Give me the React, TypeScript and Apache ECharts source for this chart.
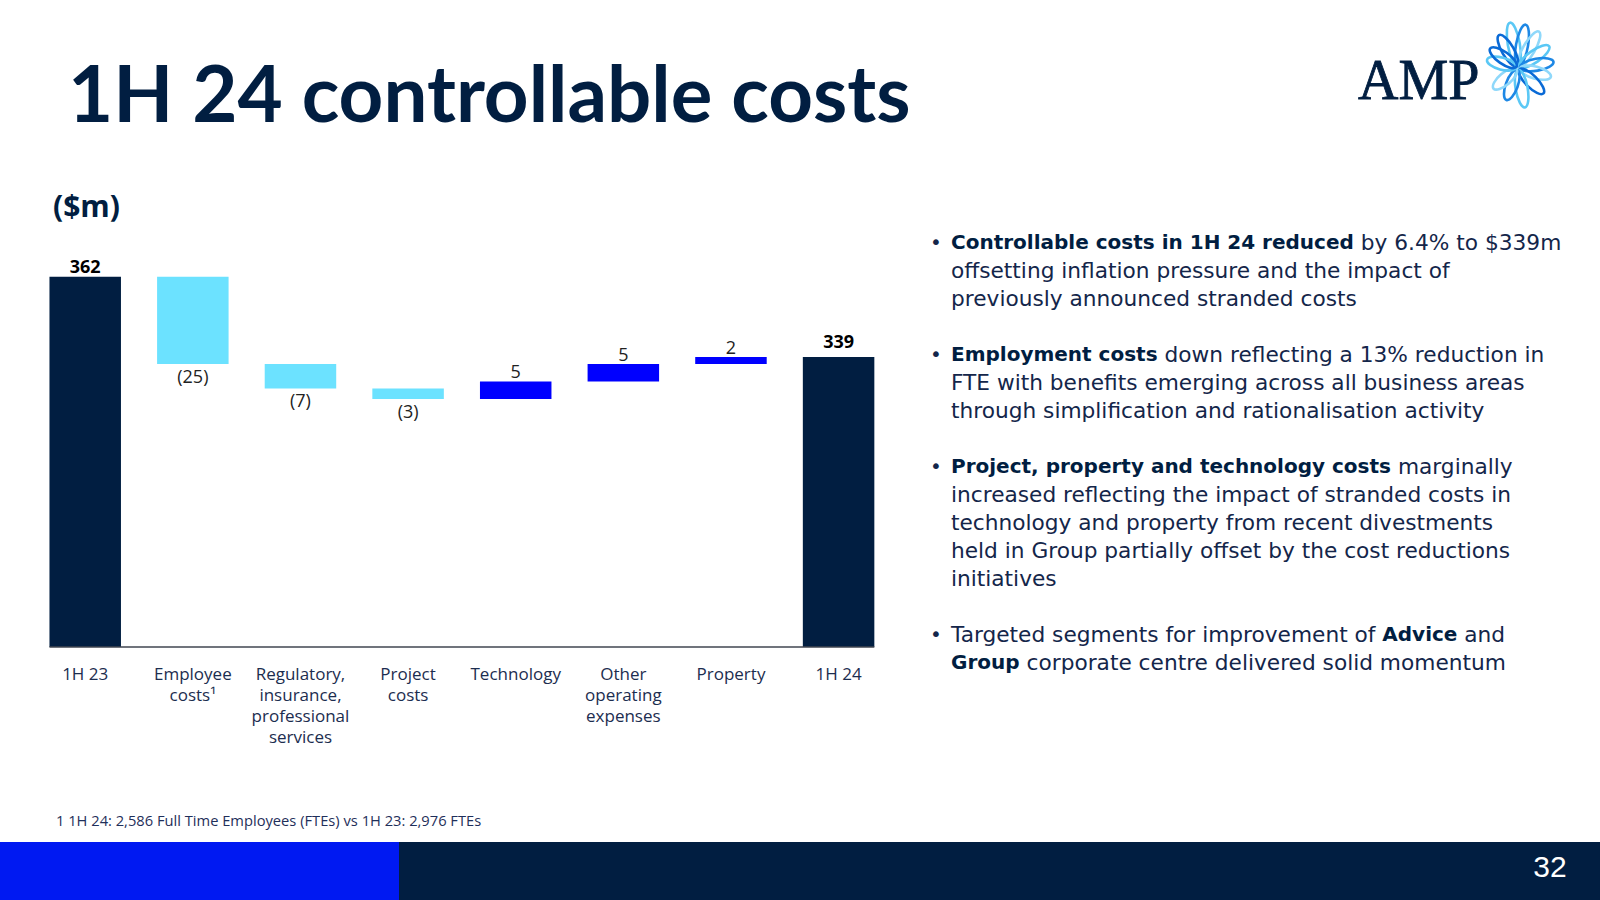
import React, { useEffect, useRef } from "react";
import * as echarts from "echarts";

// ---------- data ----------
const categories = [
  "1H 23",
  "Employee\ncosts¹",
  "Regulatory,\ninsurance,\nprofessional\nservices",
  "Project\ncosts",
  "Technology",
  "Other\noperating\nexpenses",
  "Property",
  "1H 24",
];
const changes = [362, -25, -7, -3, 5, 5, 2, 339];
const isTotal = [true, false, false, false, false, false, false, true];

const bulletLines: string[][] = [
  [
    "{b|Controllable costs in 1H 24 reduced }{r|by 6.4% to $339m}",
    "{r|offsetting inflation pressure and the impact of}",
    "{r|previously announced stranded costs}",
  ],
  [
    "{b|Employment costs }{r|down reflecting a 13% reduction in}",
    "{r|FTE with benefits emerging across all business areas}",
    "{r|through simplification and rationalisation activity}",
  ],
  [
    "{b|Project, property and technology costs }{r|marginally}",
    "{r|increased reflecting the impact of stranded costs in}",
    "{r|technology and property from recent divestments}",
    "{r|held in Group partially offset by the cost reductions}",
    "{r|initiatives}",
  ],
  [
    "{r|Targeted segments for improvement of }{b|Advice}{r| and}",
    "{b|Group }{r|corporate centre delivered solid momentum}",
  ],
];

const titleText = "1H 24 controllable costs";
const unitText = "($m)";
const footnoteText = "1 1H 24: 2,586 Full Time Employees (FTEs) vs 1H 23: 2,976 FTEs";
const pageNumber = "32";

// ---------- styles ----------
const NAVY = "#011E41";
const CYAN = "#6CE2FF";
const BLUE = "#0000FF";
const FOOT_BLUE = "#0019F2";
const TEXT = "#14264A";
const FONT = "'Open Sans', 'DejaVu Sans', sans-serif";
const BODY_FONT = "'DejaVu Sans', 'Open Sans', sans-serif";
const TITLE_FONT = "Lato, 'Open Sans', sans-serif";

// petals for the logo starburst: [angleDeg, length, color]
const petals: [number, number, string][] = [
  [100, 44, "#5BC8F5"],
  [80, 42, "#1E88E5"],
  [60, 40, "#8FD8FA"],
  [120, 36, "#0A6AD6"],
  [35, 36, "#5BC8F5"],
  [10, 34, "#1E88E5"],
  [-15, 32, "#8FD8FA"],
  [-45, 34, "#0A6AD6"],
  [-80, 38, "#5BC8F5"],
  [-110, 32, "#1E88E5"],
  [-140, 30, "#8FD8FA"],
  [165, 30, "#5BC8F5"],
  [145, 32, "#0A6AD6"],
];

export default function App() {
  const ref = useRef<HTMLDivElement>(null);

  useEffect(() => {
    if (!ref.current) return;
    const chart = echarts.init(ref.current, null, { renderer: "svg" });

    // waterfall decomposition
    const base: number[] = [];
    const bar: any[] = [];
    let running = 0;
    changes.forEach((v, i) => {
      if (isTotal[i]) {
        base.push(0);
        running = v;
        bar.push({
          value: v,
          itemStyle: { color: NAVY },
          label: {
            show: true,
            position: "top",
            distance: i === 0 ? 2 : 7,
            formatter: String(v),
            fontWeight: "bold",
            fontSize: 18,
            color: "#000",
            fontFamily: FONT,
          },
        });
      } else {
        const start = running;
        const end = running + v;
        base.push(Math.min(start, end));
        running = end;
        bar.push({
          value: Math.abs(v),
          itemStyle: { color: v < 0 ? CYAN : BLUE },
          label: {
            show: true,
            position: v < 0 ? "bottom" : "top",
            distance: v < 0 ? 3 : 1,
            formatter: v < 0 ? `(${Math.abs(v)})` : String(v),
            fontSize: 18,
            color: "#222",
            fontFamily: FONT,
          },
        });
      }
    });

    const gridLeft = 31.4;
    const gridWidth = 861;
    const gridTop = 241.7;
    const gridBottomY = 647;
    const catW = gridWidth / categories.length;
    const barW = 71.5;

    const graphics: any[] = [];

    // title
    graphics.push({
      type: "text",
      x: 68,
      y: 92,
      style: {
        text: titleText,
        font: `bold 78px ${TITLE_FONT}`,
        fill: NAVY,
        textVerticalAlign: "middle",
      },
    });
    // unit
    graphics.push({
      type: "text",
      x: 53,
      y: 205,
      style: {
        text: unitText,
        font: `bold 30px ${FONT}`,
        fill: NAVY,
        textVerticalAlign: "middle",
      },
    });

    // axis baseline (from first bar edge to last bar edge)
    graphics.push({
      type: "line",
      shape: {
        x1: gridLeft + catW / 2 - barW / 2,
        y1: gridBottomY,
        x2: gridLeft + catW * (categories.length - 0.5) + barW / 2,
        y2: gridBottomY,
      },
      style: { stroke: "#404650", lineWidth: 1.5 },
      z: 10,
    });

    // bullets
    let y = 242;
    bulletLines.forEach((lines) => {
      graphics.push({
        type: "text",
        x: 930,
        y,
        style: {
          text: "•",
          font: `20px ${BODY_FONT}`,
          fill: TEXT,
          textVerticalAlign: "middle",
        },
      });
      lines.forEach((ln) => {
        graphics.push({
          type: "text",
          x: 951,
          y,
          style: {
            text: ln,
            textVerticalAlign: "middle",
            rich: {
              b: { fontFamily: BODY_FONT, fontWeight: "bold", fontSize: 20, lineHeight: 25, fill: NAVY, color: NAVY },
              r: { fontFamily: BODY_FONT, fontSize: 21.7, lineHeight: 25, fill: TEXT, color: TEXT },
            },
          },
        });
        y += 28;
      });
      y += 28;
    });

    // footnote
    graphics.push({
      type: "text",
      x: 56,
      y: 820,
      style: {
        text: footnoteText,
        font: `14.7px ${FONT}`,
        fill: "#1F2F5A",
        textVerticalAlign: "middle",
      },
    });

    // footer bands
    graphics.push({
      type: "rect",
      shape: { x: 0, y: 842, width: 399, height: 58 },
      style: { fill: FOOT_BLUE },
    });
    graphics.push({
      type: "rect",
      shape: { x: 399, y: 842, width: 1201, height: 58 },
      style: { fill: NAVY },
    });
    graphics.push({
      type: "text",
      x: 1550,
      y: 866,
      style: {
        text: pageNumber,
        font: `30px 'Liberation Sans', Arial, sans-serif`,
        fill: "#fff",
        textAlign: "center",
        textVerticalAlign: "middle",
      },
    });

    // logo
    graphics.push({
      type: "text",
      x: 1358,
      y: 80,
      style: {
        text: "AMP",
        font: `56px 'Liberation Serif', 'DejaVu Serif', serif`,
        fill: NAVY,
        stroke: NAVY,
        lineWidth: 0.8,
        textVerticalAlign: "middle",
      },
    });
    graphics.push({
      type: "group",
      x: 1518,
      y: 68,
      children: petals.map(([a, len, c]) => ({
        type: "ellipse",
        rotation: (a * Math.PI) / 180,
        originX: 0,
        originY: 0,
        shape: { cx: len / 2 + 2, cy: 0, rx: len / 2, ry: 6 },
        style: { fill: "none", stroke: c, lineWidth: 2.6 },
      })),
    });

    chart.setOption({
      animation: false,
      backgroundColor: "#fff",
      grid: {
        left: gridLeft,
        top: gridTop,
        width: gridWidth,
        height: gridBottomY - gridTop,
        containLabel: false,
      },
      xAxis: {
        type: "category",
        data: categories,
        axisLine: { show: false },
        axisTick: { show: false },
        axisLabel: {
          interval: 0,
          margin: 16,
          fontSize: 17,
          lineHeight: 21,
          color: "#1C2D4F",
          fontFamily: FONT,
        },
      },
      yAxis: {
        type: "value",
        min: 256,
        max: 372,
        show: false,
        splitLine: { show: false },
      },
      series: [
        {
          type: "bar",
          stack: "w",
          data: base,
          barWidth: barW,
          itemStyle: { color: "transparent" },
          silent: true,
        },
        {
          type: "bar",
          stack: "w",
          data: bar,
          barWidth: barW,
        },
      ],
      graphic: graphics,
    });

    return () => chart.dispose();
  }, []);

  return (
    <div
      ref={ref}
      style={{ position: "absolute", left: 0, top: 0, width: 1600, height: 900, background: "#fff" }}
    />
  );
}
